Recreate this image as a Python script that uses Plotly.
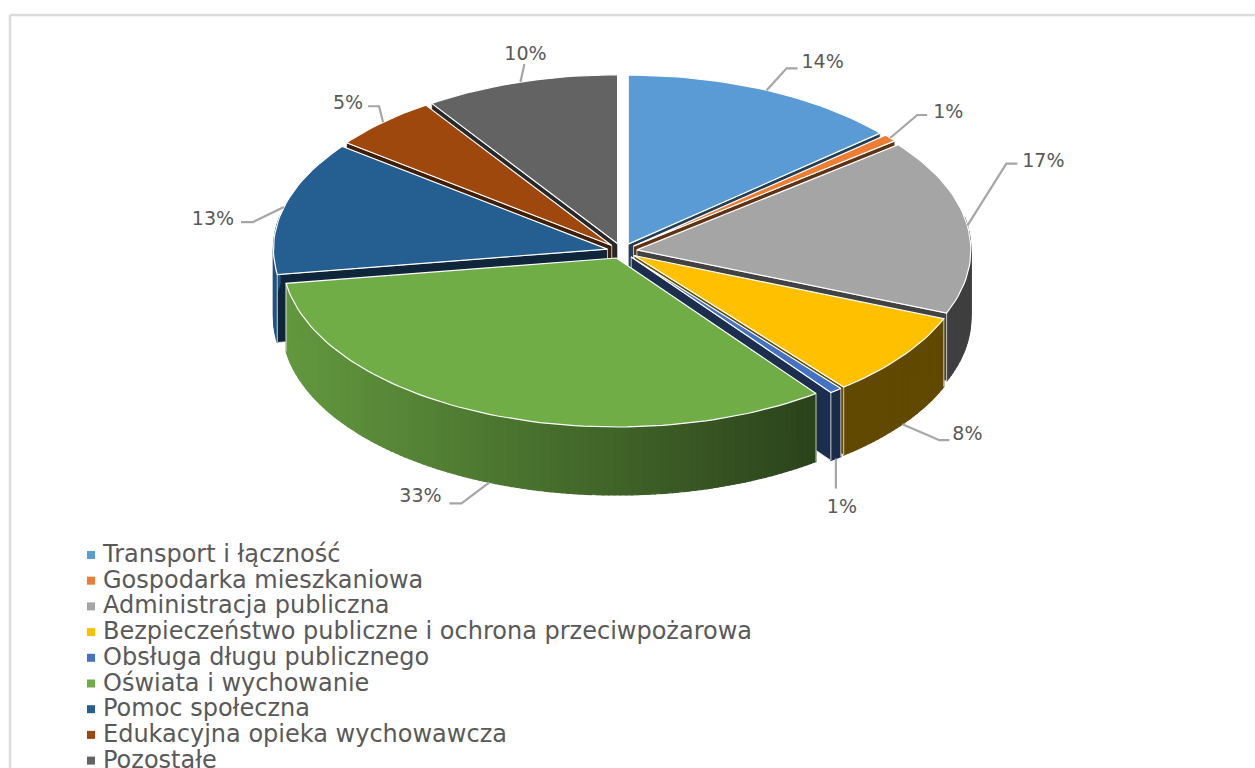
import math
import plotly.graph_objects as go

categories = ["Transport i łączność", "Gospodarka mieszkaniowa", "Administracja publiczna",
              "Bezpieczeństwo publiczne i ochrona przeciwpożarowa", "Obsługa długu publicznego",
              "Oświata i wychowanie", "Pomoc społeczna", "Edukacyjna opieka wychowawcza", "Pozostałe"]
shares = [13.6, 0.7, 16.8, 8.1, 0.6, 32.8, 12.8, 5.2, 9.4]
labels = ["14%", "1%", "17%", "8%", "1%", "33%", "13%", "5%", "10%"]
colors = ["#5b9bd5", "#ed7d31", "#a5a5a5", "#ffc000", "#4472c4", "#70ad47", "#255e91", "#9e480e", "#636363"]

# pie geometry (pixel-like axis units)
CX, CY, RX, RY, DEPTH, EXPLODE = 622, 251, 334, 169, 68, 15
# leader layout relative to the slice edge: elbow, end, label centre
leader = [((20, -22), (31, -22), (56, -27)), ((27, -23), (37, -23), (58, -25)),
          ((39, -62), (50, -62), (76, -63)), ((37, 16), (47, 16), (65, 11)),
          ((0, 15), (0, 30), (6, 50)), ((-28, 21), (-40, 21), (-69, 15)),
          ((-31, 15), (-43, 15), (-71, 13)), ((-4, -16), (-15, -16), (-35, -18)),
          ((4, -18), (4, -18), (5, -27))]
TXT = "#595959"
FONT = "DejaVu Sans"


def rgb(h):
    return [int(h[i:i + 2], 16) for i in (1, 3, 5)]


def shade(h, f):
    return "rgb(%d,%d,%d)" % tuple(round(c * f) for c in rgb(h))


def wall_factor(x):
    return max(0.38, 0.88 - (x - 285) * 0.00093)


fig = go.Figure()


def poly(xs, ys, fill, line=None, width=0.0):
    fig.add_trace(go.Scatter(x=xs, y=ys, mode="lines", fill="toself", fillcolor=fill,
                             line=dict(color=line or fill, width=width),
                             hoverinfo="skip", showlegend=False))


total = sum(shares)
slices = []
acc = 0
for i, v in enumerate(shares):
    a0 = acc / total * 2 * math.pi
    acc += v
    a1 = acc / total * 2 * math.pi
    m = (a0 + a1) / 2
    ax = CX + EXPLODE * math.sin(m)
    ay = CY - EXPLODE * RY / RX * math.cos(m)
    slices.append(dict(i=i, a0=a0, a1=a1, m=m, ax=ax, ay=ay))


def edge(s, a):
    return s["ax"] + RX * math.sin(a), s["ay"] - RY * math.cos(a)


def face_visible(s, a):
    """A radial face shows only when the slice's top lies above that edge on screen."""
    ex, ey = edge(s, a)
    mx, my = edge(s, s["m"])
    if abs(ex - s["ax"]) < 1e-6:
        return False
    y_on_edge = s["ay"] + (ey - s["ay"]) * (mx - s["ax"]) / (ex - s["ax"])
    return my < y_on_edge


for s in sorted(slices, key=lambda q: -math.cos(q["m"])):
    c = colors[s["i"]]
    # radial cut faces
    for a in (s["a0"], s["a1"]):
        if face_visible(s, a):
            ex, ey = edge(s, a)
            poly([s["ax"], ex, ex, s["ax"], s["ax"]], [s["ay"], ey, ey + DEPTH, s["ay"] + DEPTH, s["ay"]],
                 shade(c, 0.4), "#e8e8e8", 0.8)
    # outer wall, split in fine strips for the shading
    n = max(2, int((s["a1"] - s["a0"]) / math.radians(1.0)))
    angs = [s["a0"] + (s["a1"] - s["a0"]) * k / n for k in range(n + 1)]
    for p, q in zip(angs[:-1], angs[1:]):
        if math.cos((p + q) / 2) > 0.2:
            continue
        x0, y0 = edge(s, p)
        x1, y1 = edge(s, q)
        col = shade(c, wall_factor((x0 + x1) / 2))
        poly([x0, x1, x1, x0, x0], [y0, y1, y1 + DEPTH, y0 + DEPTH, y0], col, col, 1.2)
    for a in (s["a0"], s["a1"]):
        if math.cos(a) < 0.2:
            ex, ey = edge(s, a)
            fig.add_trace(go.Scatter(x=[ex, ex], y=[ey, ey + DEPTH], mode="lines",
                                     line=dict(color="#e8e8e8", width=0.8),
                                     hoverinfo="skip", showlegend=False))
    # top face
    n = max(3, int((s["a1"] - s["a0"]) / math.radians(1.5)))
    pts = [edge(s, s["a0"] + (s["a1"] - s["a0"]) * k / n) for k in range(n + 1)]
    poly([s["ax"]] + [p[0] for p in pts] + [s["ax"]], [s["ay"]] + [p[1] for p in pts] + [s["ay"]],
         c, "#ffffff", 1.2)

# leader lines and data labels
lab_x, lab_y = [], []
for s in slices:
    sx, sy = edge(s, s["m"])
    if math.cos(s["m"]) < 0:
        sy += DEPTH
    elbow, end, lab = leader[s["i"]]
    fig.add_trace(go.Scatter(x=[sx, sx + elbow[0], sx + end[0]], y=[sy, sy + elbow[1], sy + end[1]],
                             mode="lines", line=dict(color="#a6a6a6", width=2.2),
                             hoverinfo="skip", showlegend=False))
    lab_x.append(sx + lab[0])
    lab_y.append(sy + lab[1])
fig.add_trace(go.Scatter(x=lab_x, y=lab_y, text=labels, mode="text", textposition="middle center",
                         textfont=dict(family=FONT, size=19, color=TXT), hoverinfo="skip", showlegend=False))

# legend rows
LEG_Y0, LEG_DY, LEG_MX, LEG_TX = 555, 25.7, 91, 103
rows = [LEG_Y0 + LEG_DY * k for k in range(len(categories))]
fig.add_trace(go.Scatter(x=[LEG_MX] * len(rows), y=rows, mode="markers",
                         marker=dict(symbol="square", size=8, color=colors, line=dict(width=0)),
                         hoverinfo="skip", showlegend=False))
fig.add_trace(go.Scatter(x=[LEG_TX] * len(rows), y=[r + 1 for r in rows], mode="text", text=categories,
                         textposition="middle right", cliponaxis=True,
                         textfont=dict(family=FONT, size=24, color=TXT), hoverinfo="skip", showlegend=False))

fig.update_layout(
    width=1255, height=768, margin=dict(l=0, r=0, t=0, b=0, autoexpand=False),
    paper_bgcolor="white", plot_bgcolor="white", showlegend=False,
    xaxis=dict(range=[0, 1255], visible=False, fixedrange=True),
    yaxis=dict(range=[768, 0], visible=False, fixedrange=True),
    shapes=[
        dict(type="line", x0=10, x1=10, y0=15, y1=768, line=dict(color="#dcdcdc", width=2.5)),
        dict(type="line", x0=10, x1=1255, y0=15, y1=15, line=dict(color="#dcdcdc", width=2.5)),
    ],
)
fig.write_html("out.html", post_script="document.body.style.margin='0';document.body.style.overflow='hidden';",
               config=dict(displayModeBar=False))
